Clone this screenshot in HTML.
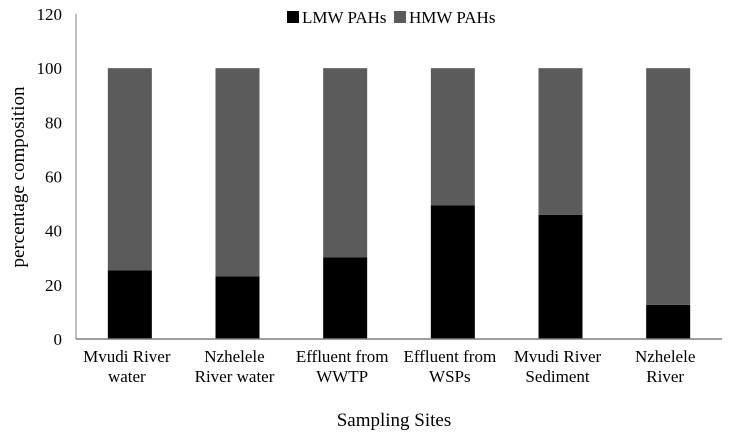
<!DOCTYPE html>
<html><head><meta charset="utf-8"><style>
body{margin:0;background:#fff;}
svg{display:block;font-family:"Liberation Serif",serif;}
</style></head><body>
<svg id="chart" width="730" height="434"></svg>
<script>
const categories=[["Mvudi River","water"],["Nzhelele","River water"],["Effluent from","WWTP"],["Effluent from","WSPs"],["Mvudi River","Sediment"],["Nzhelele","River"]];
const lmwValues=[25.4,23.1,30.2,49.4,45.8,12.6];
const hmwValues=[74.6,76.9,69.8,50.6,54.2,87.4];
const yTicks=[0,20,40,60,80,100,120];
const NS="http://www.w3.org/2000/svg";
const svg=document.getElementById('chart');
const x0=76,x1=722,yBase=339,yTop=14,yMax=120;
const bw=(x1-x0)/categories.length;
function yS(v){return yBase-(v/yMax)*(yBase-yTop);}
function xC(i){return x0+bw*(i+0.5);}
function mk(t,a,txt){const e=document.createElementNS(NS,t);for(const k in a)e.setAttribute(k,a[k]);if(txt!==undefined)e.textContent=txt;svg.appendChild(e);return e;}
yTicks.forEach(v=>{
 const t=mk('text',{x:62,y:yS(v)+6,'text-anchor':'end','font-size':'17',fill:'#000'},String(v));
 
 
});
const barW=44;
categories.forEach((c,i)=>{
 const l=lmwValues[i],h=hmwValues[i];
 const r1=mk('rect',{x:xC(i)-barW/2,y:yS(l),width:barW,height:yS(0)-yS(l),fill:'#000'});
 
 
 const r2=mk('rect',{x:xC(i)-barW/2,y:yS(l+h),width:barW,height:yS(l)-yS(l+h),fill:'#5b5b5b'});
 
 
 c.forEach((ln,j)=>{
  const t=mk('text',{x:xC(i)-3,y:362+j*20,'text-anchor':'middle','font-size':'17',fill:'#000'},ln);
  
  
 });
});
const ax=mk('line',{x1:x0,y1:yBase,x2:x1,y2:yBase,stroke:'#7f7f7f','stroke-width':1.5});


const ay=mk('line',{x1:x0,y1:yTop,x2:x0,y2:yBase,stroke:'#7f7f7f','stroke-width':1});


const xt=mk('text',{x:394,y:426,'text-anchor':'middle','font-size':'19',fill:'#000'},'Sampling Sites');


const yt=mk('text',{x:0,y:0,'text-anchor':'middle','font-size':'19',fill:'#000',transform:'translate(24,177) rotate(-90)'},'percentage composition');


const lg1=mk('rect',{x:287,y:11,width:12,height:12,fill:'#000'});


const lt1=mk('text',{x:302,y:23,'font-size':'17',fill:'#000'},'LMW PAHs');


const lg2=mk('rect',{x:394,y:11,width:12,height:12,fill:'#5b5b5b'});


const lt2=mk('text',{x:409,y:23,'font-size':'17',fill:'#000'},'HMW PAHs');


</script>
</body></html>
